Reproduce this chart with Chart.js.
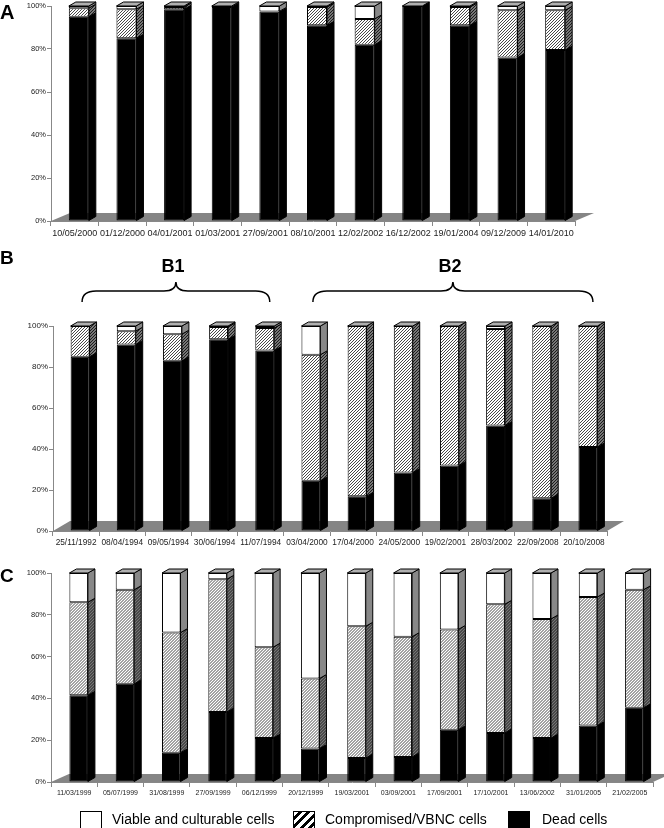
<!DOCTYPE html>
<html>
<head>
<meta charset="utf-8">
<script src="https://cdn.jsdelivr.net/npm/chart.js@4.4.0/dist/chart.umd.min.js"></script>
<style>
  body { margin: 0; background: #fff; font-family: "Liberation Sans", Arial, sans-serif; }
  #page { position: relative; width: 664px; height: 828px; overflow: hidden; }
  #page canvas { position: absolute; left: 0; }
  .tag { position: absolute; font-weight: bold; color: #000; line-height: 1; }
  .sw { position: absolute; top: 811px; width: 22px; height: 22px; box-sizing: border-box; border: 1px solid #000; }
  .lt { position: absolute; top: 811px; font-size: 14px; color: #000; line-height: 16px; }
</style>
</head>
<body>
<div id="page">
  <canvas id="chartA" width="664" height="242" style="top:0px"></canvas>
  <canvas id="chartB" width="664" height="312" style="top:240px"></canvas>
  <canvas id="chartC" width="664" height="255" style="top:548px"></canvas>

  <div class="tag" style="left:0px;top:2px;font-size:20px">A</div>
  <div class="tag" style="left:0px;top:248px;font-size:19px">B</div>
  <div class="tag" style="left:0px;top:566px;font-size:19px">C</div>

  <div class="sw" style="left:80px;background:#fff"></div>
  <div class="lt" style="left:112px">Viable and culturable cells</div>
  <div class="sw" id="hatchSw" style="left:293px"></div>
  <div class="lt" style="left:325px">Compromised/VBNC cells</div>
  <div class="sw" style="left:508px;background:#000"></div>
  <div class="lt" style="left:542px">Dead cells</div>
</div>

<script>
// ---- data (percent of cells) ----
const datesA = ["10/05/2000", "01/12/2000", "04/01/2001", "01/03/2001", "27/09/2001", "08/10/2001",
                "12/02/2002", "16/12/2002", "19/01/2004", "09/12/2009", "14/01/2010"];
const deadA   = [95, 85, 98.5, 99.5, 97.5, 91, 82, 100, 91, 76, 79.5];
const compA   = [4, 13.5, 1, 0, 0, 8.5, 12, 0, 8.5, 22, 18.5];
const viableA = [1, 1.5, 0.5, 0.5, 2.5, 0.5, 6, 0, 0.5, 2, 2];

const datesB = ["25/11/1992", "08/04/1994", "09/05/1994", "30/06/1994", "11/07/1994", "03/04/2000",
                "17/04/2000", "24/05/2000", "19/02/2001", "28/03/2002", "22/09/2008", "20/10/2008"];
const deadB   = [85, 91, 83, 93.5, 88, 24.5, 17, 28.5, 32, 51.5, 16, 41];
const compB   = [15, 6.5, 13, 6, 11, 61.5, 83, 71.5, 68, 47, 84, 59];
const viableB = [0, 2.5, 4, 0.5, 1, 14, 0, 0, 0, 1.5, 0, 0];
const groupsB = [["B1", 0, 4], ["B2", 5, 11]];

const datesC = ["11/03/1999", "05/07/1999", "31/08/1999", "27/09/1999", "06/12/1999", "20/12/1999",
                "19/03/2001", "03/09/2001", "17/09/2001", "17/10/2001", "13/06/2002", "31/01/2005", "21/02/2005"];
const deadC   = [41.5, 47, 14, 33.5, 21, 16, 11.5, 12, 25, 23.5, 21, 27, 35.5];
const compC   = [44.5, 45, 57.5, 63.5, 43.5, 33.5, 63, 57.5, 48, 61.5, 57, 61.5, 56.5];
const viableC = [14, 8, 28.5, 3, 35.5, 50.5, 25.5, 30.5, 27, 15, 22, 11.5, 8];

const yTicks = [0, 20, 40, 60, 80, 100];

// hatch patterns
function hatch(bg, fg, size, lw) {
  const c = document.createElement('canvas');
  c.width = size; c.height = size;
  const g = c.getContext('2d');
  g.fillStyle = bg; g.fillRect(0, 0, size, size);
  g.strokeStyle = fg; g.lineWidth = lw;
  g.beginPath();
  for (let k = -1; k <= 1; k++) {
    g.moveTo(k * size - 1, size + 1);
    g.lineTo(k * size + size + 1, -1);
  }
  g.stroke();
  return c;
}
const tmp = document.createElement('canvas').getContext('2d');
const hatchFront = tmp.createPattern(hatch('#fff', '#333', 3, 0.9), 'repeat');
const hatchSide = tmp.createPattern(hatch('#777', '#111', 3, 0.9), 'repeat');
document.getElementById('hatchSw').style.background =
  'repeating-linear-gradient(135deg, #fff 0px, #fff 3px, #000 3px, #000 6px)';

const sideFill = ['#000', hatchSide, '#888'];
const DX = 7, DY = 4;

// fake 3D: floor, side faces, top faces
const bar3d = {
  id: 'bar3d',
  beforeDatasetsDraw(chart, args, o) {
    const ctx = chart.ctx, a = chart.chartArea;
    const y0 = chart.scales.y.getPixelForValue(0);
    ctx.save();
    ctx.fillStyle = '#858585';
    ctx.beginPath();
    ctx.moveTo(a.left, y0);
    ctx.lineTo(a.left + o.fdx, y0 - o.fdy);
    ctx.lineTo(a.right + o.fdx, y0 - o.fdy);
    ctx.lineTo(a.right, y0);
    ctx.closePath();
    ctx.fill();
    ctx.restore();
    ctx.save();
    ctx.translate(o.shift, 0);
  },
  afterDatasetsDraw(chart, args, o) {
    const ctx = chart.ctx;
    ctx.lineWidth = 1;
    ctx.strokeStyle = '#000';
    const n = chart.data.labels.length;
    for (let j = 0; j < n; j++) {
      let topY = null, l = 0, r = 0;
      chart.data.datasets.forEach((ds, i) => {
        const bar = chart.getDatasetMeta(i).data[j];
        const p = bar.getProps(['x', 'y', 'base', 'width'], true);
        if (Math.abs(p.base - p.y) < 0.05) return;
        l = p.x - p.width / 2; r = p.x + p.width / 2;
        ctx.fillStyle = sideFill[i];
        ctx.beginPath();
        ctx.moveTo(r, p.y);
        ctx.lineTo(r + DX, p.y - DY);
        ctx.lineTo(r + DX, p.base - DY);
        ctx.lineTo(r, p.base);
        ctx.closePath();
        ctx.fill();
        ctx.stroke();
        topY = p.y;
      });
      if (topY !== null) {
        ctx.fillStyle = '#b0b0b0';
        ctx.beginPath();
        ctx.moveTo(l, topY);
        ctx.lineTo(l + DX, topY - DY);
        ctx.lineTo(r + DX, topY - DY);
        ctx.lineTo(r, topY);
        ctx.closePath();
        ctx.fill();
        ctx.stroke();
      }
    }
    ctx.restore();
  }
};

// curly braces over the B groups
const braces = {
  id: 'braces',
  afterDraw(chart, args, o) {
    if (!o.groups) return;
    const ctx = chart.ctx, xs = chart.scales.x;
    ctx.save();
    ctx.strokeStyle = '#000';
    ctx.lineWidth = 1.5;
    ctx.fillStyle = '#000';
    ctx.font = 'bold 18px "Liberation Sans", Arial, sans-serif';
    ctx.textAlign = 'center';
    ctx.textBaseline = 'alphabetic';
    o.groups.forEach(g => {
      const xL = xs.getPixelForValue(g[1]) + 6;
      const xR = xs.getPixelForValue(g[2]) + 9;
      const xC = (xL + xR) / 2;
      const yE = 62, yH = 51, yP = 42;
      ctx.beginPath();
      ctx.moveTo(xL, yE);
      ctx.quadraticCurveTo(xL, yH, xL + 14, yH);
      ctx.lineTo(xC - 12, yH);
      ctx.quadraticCurveTo(xC, yH, xC, yP);
      ctx.quadraticCurveTo(xC, yH, xC + 12, yH);
      ctx.lineTo(xR - 14, yH);
      ctx.quadraticCurveTo(xR, yH, xR, yE);
      ctx.stroke();
      ctx.fillText(g[0], xC - 3, 32);
    });
    ctx.restore();
  }
};

function makeChart(id, labels, dead, comp, viable, cfg) {
  const ds = (label, data, bg) => ({
    label: label, data: data, backgroundColor: bg, borderColor: '#000', borderWidth: 1,
    borderSkipped: false, barPercentage: cfg.barPct, categoryPercentage: 1, clip: false
  });
  return new Chart(document.getElementById(id), {
    type: 'bar',
    data: {
      labels: labels,
      datasets: [
        ds('Dead cells', dead, '#000'),
        ds('Compromised/VBNC cells', comp, hatchFront),
        ds('Viable and culturable cells', viable, '#fff')
      ]
    },
    options: {
      responsive: false,
      animation: false,
      layout: { padding: { top: cfg.top, right: cfg.right, left: 0, bottom: 0 } },
      plugins: {
        legend: { display: false },
        tooltip: { enabled: false },
        bar3d: { shift: cfg.shift, fdx: cfg.fdx, fdy: cfg.fdy },
        braces: { groups: cfg.groups }
      },
      scales: {
        x: {
          stacked: true,
          grid: { offset: true, drawOnChartArea: false, drawTicks: true, tickLength: 5, color: '#888' },
          border: { color: '#888' },
          ticks: { autoSkip: false, maxRotation: 0, color: '#222', padding: 2,
                   font: { family: '"Liberation Sans", Arial, sans-serif', size: cfg.xFont } },
          afterFit: s => { s.height = cfg.xH; }
        },
        y: {
          stacked: true, min: 0, max: 100,
          afterBuildTicks: s => { s.ticks = yTicks.map(v => ({ value: v })); },
          grid: { drawOnChartArea: false, drawTicks: true, tickLength: 4, color: '#888' },
          border: { color: '#888' },
          ticks: { color: '#222', padding: 1, callback: v => v + '%',
                   font: { family: '"Liberation Sans", Arial, sans-serif', size: cfg.yFont } },
          afterFit: s => { s.width = cfg.yW; }
        }
      }
    },
    plugins: [bar3d, braces]
  });
}

makeChart('chartA', datesA, deadA, compA, viableA,
  { top: 6, right: 89, yW: 51, xH: 21, xFont: 9, yFont: 7.5, barPct: 0.42, shift: 4, fdx: 19, fdy: 8 });
makeChart('chartB', datesB, deadB, compB, viableB,
  { top: 86, right: 57, yW: 53, xH: 21, xFont: 8.3, yFont: 8, barPct: 0.41, shift: 4, fdx: 17, fdy: 10, groups: groupsB });
makeChart('chartC', datesC, deadC, compC, viableC,
  { top: 25, right: 11, yW: 51, xH: 21, xFont: 7, yFont: 7.5, barPct: 0.40, shift: 4.5, fdx: 18, fdy: 8 });
</script>
</body>
</html>
